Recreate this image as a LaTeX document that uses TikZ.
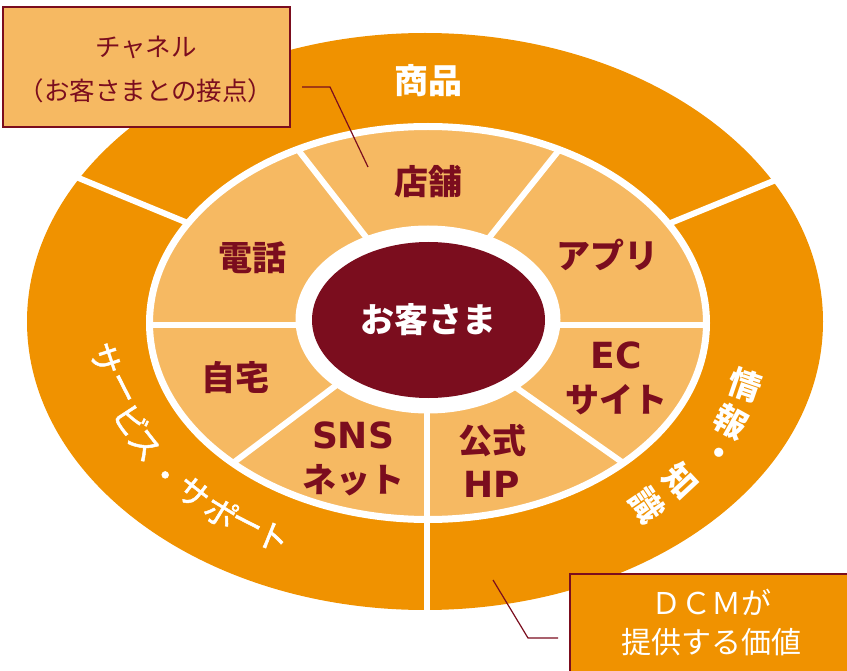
\documentclass[tikz,border=0pt]{standalone}
\usepackage{fontspec}
\setmainfont{Noto Sans CJK JP}
\newfontfamily\latb{DejaVu Sans}
\newfontfamily\jpmed{Noto Sans CJK JP}[FakeBold=1.5]
\definecolor{org}{HTML}{F09200}
\definecolor{lorg}{HTML}{F6B962}
\definecolor{dred}{HTML}{7B0D1E}
\begin{document}
\begin{tikzpicture}[x=1pt,y=-1pt,
  divider/.style={white,line width=6pt},
  lab/.style={text=dred,font=\fontsize{34}{44}\selectfont\bfseries,align=center,inner sep=0pt},
  wlab/.style={text=white,font=\fontsize{34}{40}\selectfont\bfseries,inner sep=0pt},
  arcch/.style={text=white,font=\jpmed\fontsize{32.5}{32.5}\selectfont,inner sep=0pt},
  arcbd/.style={text=white,font=\fontsize{33}{33}\selectfont\bfseries,inner sep=0pt},
  leader/.style={dred,line width=1.2pt},
  callbox/.style={draw=dred,line width=1.2pt,inner sep=0pt}]
\useasboundingbox (0,0) rectangle (847,671);
\clip (0,0) rectangle (847,671);
% outer ring
\fill[org] (425,321.5) ellipse [x radius=398pt,y radius=288.5pt];
\coordinate (c) at (428,322);
\coordinate (d1) at (30,158);
\coordinate (d2) at (820,162);
\coordinate (d3t) at (426.5,322);
\coordinate (d3) at (426.5,640);
\draw[divider] (c) -- (d1);
\draw[divider] (c) -- (d2);
\draw[divider] (d3t) -- (d3);
% middle ring
\fill[lorg] (428,323) ellipse [x radius=278.5pt,y radius=196.5pt];
\begin{scope}
\clip (428,323) ellipse [x radius=278.5pt,y radius=196.5pt];
\coordinate (s1a) at (394,273); \coordinate (s1b) at (267,110);
\coordinate (s2a) at (461,273); \coordinate (s2b) at (591,110);
\coordinate (s3a) at (428,325); \coordinate (s3b) at (100,325);
\coordinate (s4b) at (760,325);
\coordinate (s5a) at (375,356); \coordinate (s5b) at (180,503);
\coordinate (s6a) at (477,360); \coordinate (s6b) at (680,503);
\coordinate (s7a) at (426.5,330); \coordinate (s7b) at (426.5,560);
\draw[divider] (s1a) -- (s1b);
\draw[divider] (s2a) -- (s2b);
\draw[divider] (s3a) -- (s3b);
\draw[divider] (s3a) -- (s4b);
\draw[divider] (s5a) -- (s5b);
\draw[divider] (s6a) -- (s6b);
\draw[divider] (s7a) -- (s7b);
\end{scope}
\draw[white,line width=7pt] (428,323) ellipse [x radius=278.5pt,y radius=196.5pt];
% centre
\fill[white] (428,319.5) ellipse [x radius=132.5pt,y radius=94pt];
\fill[dred] (428.5,320) ellipse [x radius=116.5pt,y radius=78pt];
\node[wlab] (cust) at (428,320) {お客さま};
% outer labels
\node[wlab] (goods) at (428,81) {商品};
\node[arcch,rotate=-72] (a1) at (105,359) {サ};
\node[arcch,rotate=-63] (a2) at (119,390) {ー};
\node[arcch,rotate=-57] (a3) at (131,420) {ビ};
\node[arcch,rotate=-52] (a4) at (144,445) {ス};
\node[arcch,rotate=-46] (a5) at (162,478) {・};
\node[arcch,rotate=-38] (a6) at (193,493) {サ};
\node[arcch,rotate=-31.5] (a7) at (221,512) {ポ};
\node[arcch,rotate=-27] (a8) at (245,527) {ー};
\node[arcch,rotate=-22] (a9) at (273,537) {ト};
\node[arcbd,rotate=-19] (b1) at (745,385) {情};
\node[arcbd,rotate=-29] (b2) at (731,422) {報};
\node[arcbd,rotate=-38] (b3) at (717,456) {・};
\node[arcbd,rotate=-47] (b4) at (681,481) {知};
\node[arcbd,rotate=-56] (b5) at (647,505) {識};
% middle labels
\node[lab] (shop) at (428,182) {店舗};
\node[lab] (tel) at (252,258) {電話};
\node[lab] (app) at (607,255) {アプリ};
\node[lab] (home) at (235,378) {自宅};
\node[lab] (ec) at (616,378.5) {{\latb\fontsize{36}{44}\selectfont\bfseries EC}\\サイト};
\node[lab] (sns) at (353,459) {{\latb\fontsize{36}{44}\selectfont\bfseries SNS}\\ネット};
\node[lab] (hp) at (492,461) {公式\\{\latb\fontsize{36}{44}\selectfont\bfseries HP}};
% callout 1
\node[callbox,fill=lorg,minimum width=287pt,minimum height=120pt] (chbox) at (146.5,67) {};
\node[text=dred,font=\fontsize{25.5}{44}\selectfont,align=center,inner sep=0pt] (chtext) at (146,70) {チャネル\\（お客さまとの接点）};
\coordinate (l1a) at (302,87);
\coordinate (l1b) at (330,87);
\coordinate (l1c) at (368,167);
\draw[leader] (l1a) -- (l1b) -- (l1c);
% callout 2
\node[callbox,fill=org,minimum width=282pt,minimum height=102pt] (dcmbox) at (711,625) {};
\node[text=white,font=\fontsize{30}{39}\selectfont,align=center,inner sep=0pt] (dcmtext) at (711,622.5) {ＤＣＭが\\提供する価値};
\coordinate (l2a) at (493,580);
\coordinate (l2b) at (528,638);
\coordinate (l2c) at (558,638);
\draw[leader] (l2a) -- (l2b) -- (l2c);
\end{tikzpicture}
\end{document}
